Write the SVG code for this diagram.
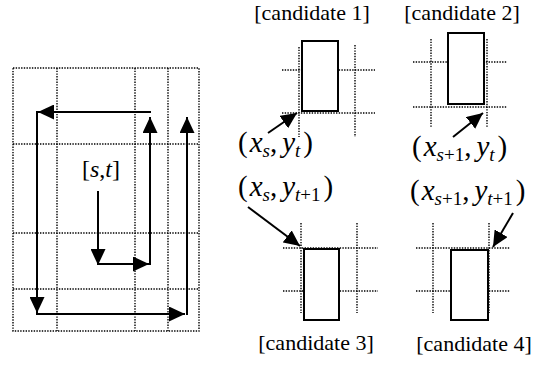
<svg xmlns="http://www.w3.org/2000/svg" width="544" height="369" viewBox="0 0 544 369">
<style>
.dot{fill:none;stroke:#000;stroke-width:1.4;stroke-dasharray:1.4 1.3}
.box{fill:#fff;stroke:#000;stroke-width:2}
.arr{fill:none;stroke:#000;stroke-width:2;marker-end:url(#ah)}
.lbl{font-family:"Liberation Serif","Times New Roman",serif;font-size:22px;fill:#000}
.m{font-family:"Liberation Serif","Times New Roman",serif;font-size:29px;fill:#000}
.i{font-style:italic}
.sub{font-style:italic;font-size:19px}
.subr{font-size:19px}
</style>
<defs>
<marker id="ah" markerUnits="userSpaceOnUse" markerWidth="16" markerHeight="15" refX="16" refY="7.5" orient="auto">
<path d="M0,0 L16,7.5 L0,15 z" fill="#000"/>
</marker>
</defs>
<rect width="544" height="369" fill="#fff"/>

<g id="grid">
<rect class="dot" x="13" y="68" width="186" height="263"/>
<line class="dot" x1="57" y1="68" x2="57" y2="331"/>
<line class="dot" x1="135" y1="68" x2="135" y2="331"/>
<line class="dot" x1="168" y1="68" x2="168" y2="331"/>
<line class="dot" x1="13" y1="144" x2="199" y2="144"/>
<line class="dot" x1="13" y1="233" x2="199" y2="233"/>
<line class="dot" x1="13" y1="289" x2="199" y2="289"/>
<text class="m" x="82" y="177" style="font-size:24px">[<tspan class="i">s</tspan>,<tspan class="i">t</tspan>]</text>
</g>

<g id="candidate1">
<line class="dot" x1="299" y1="47" x2="299" y2="137"/>
<line class="dot" x1="355" y1="45" x2="355" y2="137"/>
<line class="dot" x1="282" y1="70" x2="375" y2="70"/>
<line class="dot" x1="282" y1="113" x2="375" y2="113"/>
<rect class="box" x="302" y="41" width="36" height="70"/>
<text class="lbl" x="312" y="20" text-anchor="middle">[candidate 1]</text>
</g>

<g id="candidate2">
<line class="dot" x1="431" y1="39" x2="431" y2="128"/>
<line class="dot" x1="487" y1="39" x2="487" y2="128"/>
<line class="dot" x1="413" y1="62" x2="507" y2="62"/>
<line class="dot" x1="413" y1="107" x2="507" y2="107"/>
<rect class="box" x="448" y="33" width="36" height="71"/>
<text class="lbl" x="462" y="20" text-anchor="middle">[candidate 2]</text>
</g>

<g id="candidate3">
<line class="dot" x1="301" y1="223" x2="301" y2="313"/>
<line class="dot" x1="357" y1="223" x2="357" y2="313"/>
<line class="dot" x1="283" y1="248" x2="378" y2="248"/>
<line class="dot" x1="283" y1="291" x2="378" y2="291"/>
<rect class="box" x="304" y="249" width="35" height="71"/>
<text class="lbl" x="316" y="350" text-anchor="middle">[candidate 3]</text>
</g>

<g id="candidate4">
<line class="dot" x1="433" y1="223" x2="433" y2="313"/>
<line class="dot" x1="489" y1="223" x2="489" y2="313"/>
<line class="dot" x1="416" y1="248" x2="510" y2="248"/>
<line class="dot" x1="416" y1="291" x2="510" y2="291"/>
<rect class="box" x="451" y="250" width="37" height="70"/>
<text class="lbl" x="474" y="351" text-anchor="middle">[candidate 4]</text>
</g>

<g id="label-xs-yt">
<text class="m" x="238" y="152">(<tspan class="i" dx="2">x</tspan><tspan class="sub" dy="5">s</tspan><tspan dy="-5">,</tspan><tspan class="i" dx="5">y</tspan><tspan class="sub" dy="5">t</tspan><tspan dy="-5" dx="3">)</tspan></text>
</g>
<g id="label-xs1-yt">
<text class="m" x="412" y="156">(<tspan class="i" dx="2">x</tspan><tspan class="sub" dy="5">s</tspan><tspan class="subr">+1</tspan><tspan dy="-5">,</tspan><tspan class="i" dx="5">y</tspan><tspan class="sub" dy="5">t</tspan><tspan dy="-5" dx="3">)</tspan></text>
</g>
<g id="label-xs-yt1">
<text class="m" x="238" y="196">(<tspan class="i" dx="2">x</tspan><tspan class="sub" dy="5">s</tspan><tspan dy="-5">,</tspan><tspan class="i" dx="5">y</tspan><tspan class="sub" dy="5">t</tspan><tspan class="subr">+1</tspan><tspan dy="-5" dx="3">)</tspan></text>
</g>
<g id="label-xs1-yt1">
<text class="m" x="410" y="200">(<tspan class="i" dx="2">x</tspan><tspan class="sub" dy="5">s</tspan><tspan class="subr">+1</tspan><tspan dy="-5">,</tspan><tspan class="i" dx="5">y</tspan><tspan class="sub" dy="5">t</tspan><tspan class="subr">+1</tspan><tspan dy="-5" dx="3">)</tspan></text>
</g>

<g id="connectors">
<path class="arr" d="M98,191 L98,265"/>
<path class="arr" d="M98,264 L149,264"/>
<path class="arr" d="M150,265 L150,117"/>
<path class="arr" d="M151,112 L38,112"/>
<path class="arr" d="M37,111 L37,313"/>
<path class="arr" d="M36,314 L185,314"/>
<path class="arr" d="M187,315 L187,117"/>
<path class="arr" d="M268,133 L297,113"/>
<path class="arr" d="M453,137 L483,113"/>
<path class="arr" d="M248,207 L300,246"/>
<path class="arr" d="M513,213 L493,247"/>
</g>
</svg>
